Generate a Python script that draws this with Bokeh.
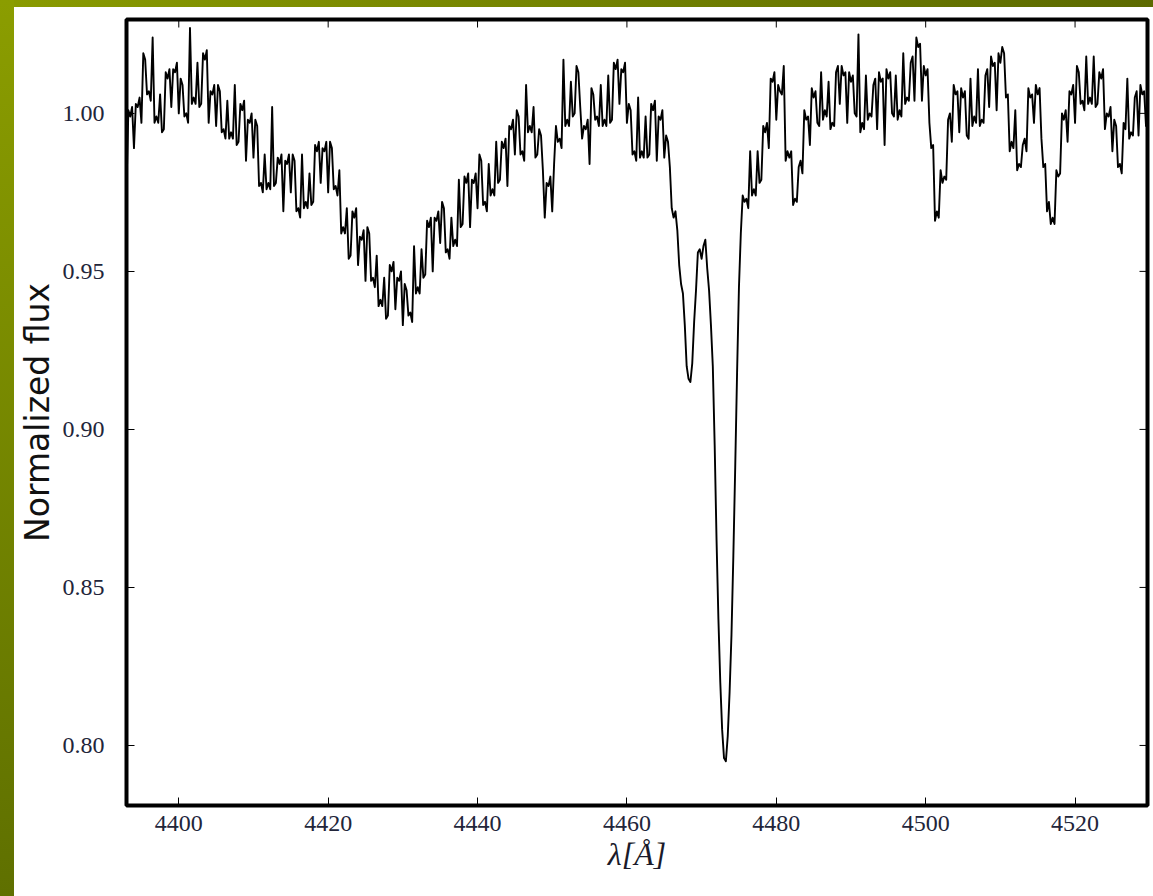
import numpy as np
from bokeh.plotting import figure
from bokeh.models import Range1d, FixedTicker, NumeralTickFormatter, Div
from bokeh.layouts import row, column
from bokeh.embed import file_html
from bokeh.resources import INLINE

# Normalized spectrum, wavelength grid in Angstrom.
# Samples at WL_START + k*WL_STEP ...
WL_START = 4393.0
WL_STEP = 0.5
flux_grid = [
    0.976, 0.999, 0.989, 1.002, 0.997, 1.017, 1.007, 1.024, 0.999, 1.006,   # 4393.0-4397.5
    0.995, 1.011, 1.002, 1.013, 1.000, 1.009, 1.000, 1.027, 1.005, 1.016,   # 4398.0-4402.5
    1.003, 1.017, 0.997, 1.006, 0.996, 1.007, 0.995, 1.004, 0.994, 1.009,   # 4403.0-4407.5
    0.991, 1.001, 0.985, 0.997, 0.986, 0.996, 0.978, 0.987, 0.978, 1.002,   # 4408.0-4412.5
    0.978, 0.984, 0.969, 0.984, 0.975, 0.985, 0.970, 0.987, 0.972, 0.981,   # 4413.0-4417.5
    0.972, 0.988, 0.978, 0.988, 0.975, 0.989, 0.977, 0.982, 0.964, 0.970,   # 4418.0-4422.5
    0.955, 0.967, 0.952, 0.960, 0.947, 0.962, 0.948, 0.955, 0.941, 0.948,   # 4423.0-4427.5
    0.936, 0.950, 0.938, 0.947, 0.933, 0.944, 0.937, 0.958, 0.945, 0.957,   # 4428.0-4432.5
    0.949, 0.964, 0.950, 0.966, 0.959, 0.970, 0.957, 0.967, 0.960, 0.979,   # 4433.0-4437.5
    0.965, 0.978, 0.964, 0.978, 0.970, 0.985, 0.972, 0.984, 0.976, 0.991,   # 4438.0-4442.5
    0.979, 0.989, 0.977, 0.995, 0.987, 0.999, 0.988, 1.009, 0.996, 1.002,   # 4443.0-4447.5
    0.987, 0.993, 0.967, 0.977, 0.969, 0.996, 0.992, 1.017, 0.998, 1.010,   # 4448.0-4452.5
    1.000, 1.013, 0.992, 0.995, 0.984, 1.006, 0.999, 1.009, 0.998, 1.012,   # 4453.0-4457.5
    0.998, 1.014, 1.003, 1.013, 0.997, 1.001, 0.988, 1.005, 0.988, 0.999,   # 4458.0-4462.5
    0.987, 1.001, 0.985, 0.998, 0.986, 0.991, 0.970, 0.969, 0.952, 0.943,   # 4463.0-4467.5
    0.920, 0.915, 0.934, 0.956, 0.954, 0.960, 0.944, 0.920, 0.865, 0.820,   # 4468.0-4472.5
    0.796, 0.803, 0.835, 0.888, 0.945, 0.974, 0.973, 0.988, 0.976, 0.988,   # 4473.0-4477.5
    0.979, 0.994, 0.989, 1.010, 0.998, 1.007, 1.015, 0.988, 0.988, 0.973,   # 4478.0-4482.5
    0.983, 0.981, 0.998, 0.990, 1.005, 0.997, 1.013, 1.001, 1.010, 0.997,   # 4483.0-4487.5
    1.013, 1.003, 1.012, 0.997, 1.010, 1.000, 1.025, 0.997, 1.012, 1.000,   # 4488.0-4492.5
    1.009, 0.995, 1.010, 0.990, 1.011, 1.000, 1.012, 1.001, 1.019, 1.005,   # 4493.0-4497.5
    1.016, 1.004, 1.021, 1.004, 1.012, 0.997, 0.990, 0.969, 0.982, 0.980,   # 4498.0-4502.5
    0.998, 0.991, 1.006, 0.994, 1.005, 0.993, 1.011, 0.999, 1.014, 0.998,   # 4503.0-4507.5
    1.012, 1.002, 1.015, 1.001, 1.016, 1.019, 1.006, 0.991, 1.001, 0.984,   # 4508.0-4512.5
    0.990, 0.988, 1.005, 0.997, 1.006, 0.992, 0.984, 0.972, 0.967, 0.982,   # 4513.0-4517.5
    0.981, 0.998, 0.991, 1.006, 0.997, 1.013, 1.004, 1.018, 1.005, 1.018,   # 4518.0-4522.5
    1.003, 1.011, 0.995, 0.999, 0.988, 0.996, 0.984, 0.997, 1.011, 0.994,   # 4523.0-4527.5
    1.005, 0.993, 1.006, 0.996, 1.003,                                      # 4528.0-4530.0
]
# ... and at the half-step points WL_START + (k + 0.5)*WL_STEP
flux_half = [
    1.001, 1.002, 1.003, 1.005, 1.019, 1.006, 1.004, 0.997, 0.997, 0.994,   # 4393.25-4397.75
    1.013, 1.014, 1.014, 1.016, 1.011, 0.999, 0.997, 1.003, 1.003, 1.002,   # 4398.25-4402.75
    1.019, 1.020, 1.007, 1.009, 1.009, 0.994, 0.992, 0.992, 0.992, 0.990,   # 4403.25-4407.75
    1.003, 1.004, 0.998, 1.000, 0.998, 0.977, 0.975, 0.976, 0.976, 0.977,   # 4408.25-4412.75
    0.986, 0.987, 0.985, 0.987, 0.987, 0.969, 0.967, 0.970, 0.970, 0.971,   # 4413.25-4417.75
    0.990, 0.991, 0.989, 0.991, 0.991, 0.976, 0.974, 0.962, 0.962, 0.954,   # 4418.25-4422.75
    0.969, 0.970, 0.961, 0.963, 0.964, 0.947, 0.945, 0.939, 0.939, 0.935,   # 4423.25-4427.75
    0.952, 0.953, 0.948, 0.950, 0.946, 0.936, 0.934, 0.943, 0.943, 0.948,   # 4428.25-4432.75
    0.966, 0.967, 0.967, 0.969, 0.972, 0.956, 0.954, 0.958, 0.958, 0.964,   # 4433.25-4437.75
    0.980, 0.981, 0.979, 0.981, 0.987, 0.971, 0.969, 0.974, 0.974, 0.978,   # 4438.25-4442.75
    0.991, 0.992, 0.996, 0.998, 1.001, 0.987, 0.985, 0.994, 0.994, 0.986,   # 4443.25-4447.75
    0.995, 0.982, 0.978, 0.980, 0.984, 0.991, 0.989, 0.996, 0.996, 0.999,   # 4448.25-4452.75
    1.015, 1.002, 0.996, 0.998, 1.008, 0.998, 0.996, 0.996, 0.996, 0.997,   # 4453.25-4457.75
    1.016, 1.017, 1.014, 1.016, 1.003, 0.987, 0.985, 0.986, 0.986, 0.986,   # 4458.25-4462.75
    1.003, 1.004, 0.999, 1.001, 0.993, 0.983, 0.967, 0.963, 0.946, 0.933,   # 4463.25-4467.75
    0.916, 0.921, 0.944, 0.957, 0.958, 0.951, 0.933, 0.895, 0.840, 0.805,   # 4468.25-4472.75
    0.795, 0.817, 0.860, 0.918, 0.962, 0.972, 0.970, 0.974, 0.974, 0.978,   # 4473.25-4477.75
    0.996, 0.997, 1.011, 1.013, 1.009, 1.006, 0.985, 0.986, 0.971, 0.972,   # 4478.25-4482.75
    0.985, 1.001, 0.999, 1.008, 1.007, 0.996, 0.998, 0.999, 0.995, 0.996,   # 4483.25-4487.75
    1.015, 1.015, 1.013, 1.013, 1.012, 0.999, 0.994, 0.995, 0.998, 0.999,   # 4488.25-4492.75
    1.011, 1.013, 1.011, 1.014, 1.013, 0.999, 0.998, 0.999, 1.003, 1.004,   # 4493.25-4497.75
    1.018, 1.024, 1.022, 1.015, 1.014, 0.989, 0.966, 0.967, 0.978, 0.979,   # 4498.25-4502.75
    1.000, 1.009, 1.007, 1.008, 1.007, 0.992, 0.996, 0.997, 0.996, 0.997,   # 4503.25-4507.75
    1.014, 1.018, 1.016, 1.019, 1.021, 1.005, 0.988, 0.989, 0.982, 0.983,   # 4508.25-4512.75
    0.992, 1.008, 1.006, 1.009, 1.008, 0.983, 0.969, 0.965, 0.965, 0.980,   # 4513.25-4517.75
    1.000, 1.001, 1.007, 1.009, 1.015, 1.003, 1.001, 1.003, 1.003, 1.002,   # 4518.25-4522.75
    1.013, 1.014, 1.000, 1.002, 0.998, 0.983, 0.981, 0.995, 0.992, 0.993,   # 4523.25-4527.75
    1.007, 1.009, 1.007, 1.006,                                             # 4528.25-4529.75
]
x_ticks = [4400, 4420, 4440, 4460, 4480, 4500, 4520]
y_ticks = [0.80, 0.85, 0.90, 0.95, 1.00]
x_label = "λ[Å]"
y_label = "Normalized flux"

# merge the two sample sets into one wavelength-ordered spectrum
wl, flux = [], []
for k, f in enumerate(flux_grid):
    wl.append(WL_START + k * WL_STEP)
    flux.append(f)
    if k < len(flux_half):
        wl.append(WL_START + (k + 0.5) * WL_STEP)
        flux.append(flux_half[k])

x_rng = Range1d(4393.0, 4529.7)
y_rng = Range1d(0.781, 1.0297)

p = figure(width=1139, height=889, output_backend="svg", toolbar_location=None,
           x_range=x_rng, y_range=y_rng,
           min_border_left=111, min_border_right=6, min_border_top=12,
           min_border_bottom=91)
p.background_fill_color = "white"
p.border_fill_color = "white"
p.outline_line_color = "black"
p.outline_line_width = 4
p.grid.visible = False

p.line(wl, flux, line_color="black", line_width=1.9, line_join="round")

# inward tick marks on the top and right edges of the frame
p.ray(x=x_ticks, y=[y_rng.end] * len(x_ticks), length=8, length_units="screen",
      angle=-np.pi / 2, line_color="black", line_width=1)
p.ray(x=[x_rng.end] * len(y_ticks), y=y_ticks, length=8, length_units="screen",
      angle=np.pi, line_color="black", line_width=1)

tick_font = "Liberation Serif"
tick_color = "#22253a"

for ax in (p.xaxis[0], p.yaxis[0]):
    ax.axis_line_color = None
    ax.major_tick_in = 8
    ax.major_tick_out = 0
    ax.major_tick_line_color = "black"
    ax.major_tick_line_width = 1
    ax.minor_tick_line_color = None
    ax.major_label_text_font = tick_font
    ax.major_label_text_font_size = "24px"
    ax.major_label_text_color = tick_color

xa = p.xaxis[0]
xa.ticker = FixedTicker(ticks=x_ticks)
xa.major_label_standoff = 10
xa.axis_label = x_label
xa.axis_label_text_font = "Liberation Serif"
xa.axis_label_text_font_style = "italic"
xa.axis_label_text_font_size = "32px"
xa.axis_label_text_color = "#1a1a2a"
xa.axis_label_standoff = 2

ya = p.yaxis[0]
ya.ticker = FixedTicker(ticks=y_ticks)
ya.formatter = NumeralTickFormatter(format="0.00")
ya.major_label_standoff = 22
ya.axis_label = y_label
ya.axis_label_text_font = "DejaVu Sans"
ya.axis_label_text_font_style = "normal"
ya.axis_label_text_font_size = "33px"
ya.axis_label_text_color = "#111111"
ya.axis_label_standoff = 3

# olive slide-style bands along the left and top edges
left_band = Div(text="", width=14, height=896, margin=(0, 0, 0, 0),
                styles={"background": "linear-gradient(180deg, #8b9d00 0%, #5f7000 100%)"})
top_band = Div(text="", width=1139, height=7, margin=(0, 0, 0, 0),
               styles={"background": "linear-gradient(90deg, #899a00 0%, #5c6a00 100%)"})

layout = row(left_band, column(top_band, p, spacing=0), spacing=0)

open("out.html", "w").write(file_html(layout, INLINE))
